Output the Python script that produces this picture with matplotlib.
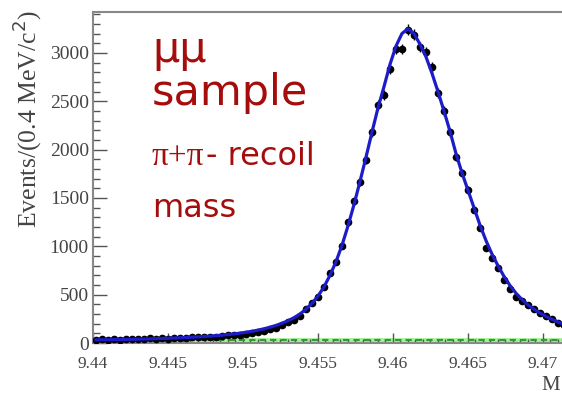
import matplotlib
matplotlib.use("Agg")
import matplotlib.pyplot as plt
from matplotlib.ticker import MultipleLocator, FixedLocator
import numpy as np

# bin centres (0.4 MeV bins), GeV
mass = [9.4402 + 0.0004 * i for i in range(79)]

# events per bin
events = [35, 38, 30, 40, 35, 42, 38, 45, 40, 48,
          44, 50, 46, 52, 55, 50, 58, 62, 58, 65,
          60, 72, 78, 85, 80, 95, 105, 115, 120, 140,
          155, 185, 220, 240, 280, 350, 410, 475, 580, 720,
          840, 1000, 1250, 1470, 1660, 1890, 2180, 2460, 2565, 2830,
          3040, 3040, 3237, 3190, 3060, 3010, 2850, 2585, 2400, 2180,
          1925, 1760, 1580, 1380, 1190, 980, 880, 775, 655, 560,
          475, 435, 390, 350, 315, 280, 245, 207, 190]

# fitted total p.d.f. at the same points
fit = [32, 33, 34, 35, 36, 37, 38, 40, 41, 43,
       45, 47, 49, 51, 54, 57, 60, 63, 67, 71,
       76, 81, 87, 94, 102, 111, 121, 133, 147, 163,
       182, 204, 230, 262, 300, 350, 410, 485, 580, 700,
       840, 1010, 1210, 1430, 1670, 1920, 2180, 2430, 2650, 2880,
       3070, 3200, 3250, 3200, 3090, 2960, 2790, 2600, 2400, 2190,
       1960, 1760, 1580, 1400, 1220, 1060, 920, 800, 690, 595,
       515, 450, 395, 350, 310, 275, 245, 218, 195]

# flat background component
bkg_x = [9.44, 9.4715]
bkg_y = [28, 28]

red = "#a50d0d"
grey = "#555555"

fig = plt.figure(figsize=(5.62, 3.96), dpi=100)
ax = fig.add_axes([93 / 562, 53 / 396, 1 - 93 / 562, 331 / 396])

ax.plot(bkg_x, bkg_y, color="#a8ee9c", lw=3.5, zorder=1)
ax.plot(bkg_x, bkg_y, color="#2e9e2e", lw=1.5, ls=(0, (3, 2)), zorder=2)
ax.errorbar(mass, events, yerr=np.sqrt(events), fmt="o", color="black",
            ms=4.5, elinewidth=1, capsize=0, zorder=3)
ax.plot(mass, fit, color="#1c1cc8", lw=2.3, zorder=4)

ax.set_xlim(9.44, 9.47127)
ax.set_ylim(0, 3423)

ax.xaxis.set_major_locator(FixedLocator([9.44, 9.445, 9.45, 9.455, 9.46, 9.465, 9.47]))
ax.xaxis.set_minor_locator(MultipleLocator(0.0005))
ax.yaxis.set_major_locator(MultipleLocator(500))
ax.yaxis.set_minor_locator(MultipleLocator(100))
ax.set_xticklabels(["9.44", "9.445", "9.45", "9.455", "9.46", "9.465", "9.47"])

ax.tick_params(which="both", direction="in", colors=grey, labelcolor="#444444",
               top=False, right=False)
ax.tick_params(axis="y", which="major", length=10, width=1, pad=3)
ax.tick_params(axis="y", which="minor", length=5, width=1)
ax.tick_params(axis="x", which="major", length=7, width=1, pad=9)
ax.tick_params(axis="x", which="minor", length=3, width=1)
for lab in ax.get_yticklabels():
    lab.set_family("Liberation Serif")
    lab.set_fontsize(14)
for lab in ax.get_xticklabels():
    lab.set_family("Liberation Serif")
    lab.set_fontsize(12.5)

for side in ["left", "top", "bottom"]:
    ax.spines[side].set_color("#888888")
    ax.spines[side].set_linewidth(1.5)
ax.spines["right"].set_visible(False)

fig.text(27 / 562, 1 - 119 / 396, "Events/(0.4 MeV/c$^2$)", rotation=90,
         ha="center", va="center", fontsize=18.5, family="Liberation Serif",
         color="#444444")
fig.text(541 / 562, 1 - 390 / 396, "M", ha="left", va="baseline",
         fontsize=15, family="Liberation Serif", color="#444444")

# labels
fig.text(152 / 562, 1 - 62 / 396, "μμ", fontsize=31, color=red, va="baseline")
fig.text(152 / 562, 1 - 105 / 396, "sample", fontsize=31, color=red, va="baseline")
fig.text(152 / 562, 1 - 165 / 396, "π+π", fontsize=24, color=red, va="baseline",
         family="Liberation Serif")
fig.text(206 / 562, 1 - 165 / 396, "- recoil", fontsize=23, color=red, va="baseline")
fig.text(152 / 562, 1 - 217 / 396, "mass", fontsize=23, color=red, va="baseline")

fig.savefig("out.png", dpi=100, facecolor="white")
